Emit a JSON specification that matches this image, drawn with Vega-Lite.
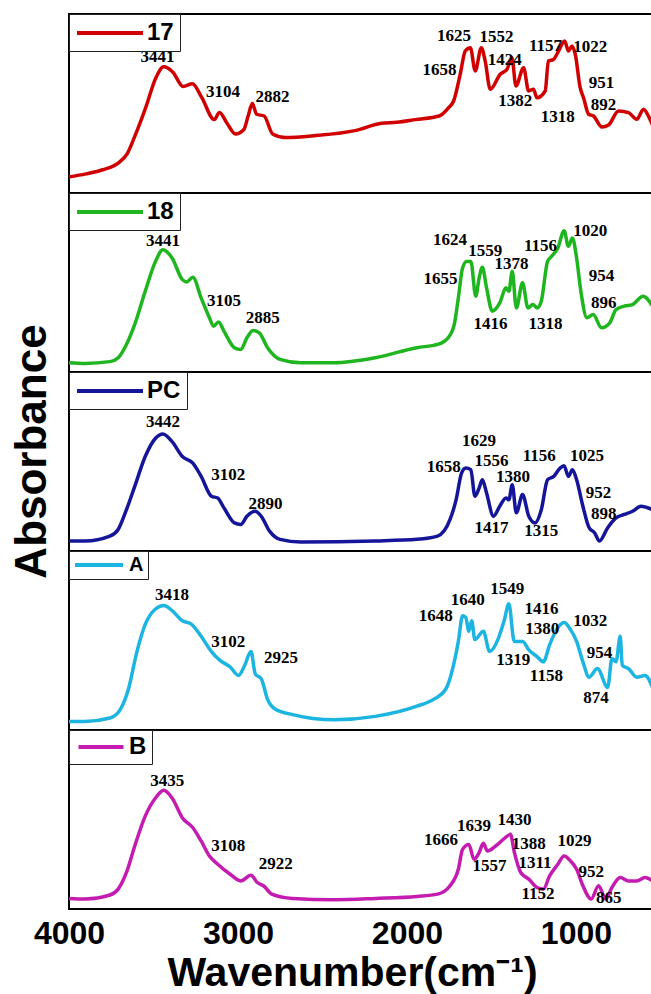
{
"$schema": "https://vega.github.io/schema/vega-lite/v6.json",
"background": "white",
"padding": {"left": 8, "top": 12, "right": 0, "bottom": 0},
"bounds": "flush",
"spacing": 0,
"config": {"view": {"stroke": "black", "strokeWidth": 2}},
"resolve": {"scale": {"color": "independent"}, "legend": {"color": "independent"}},
"datasets": {
"s17": [{"wn":4000,"abs":0.09},{"wn":3900,"abs":0.107},{"wn":3800,"abs":0.13},{"wn":3705,"abs":0.17},{"wn":3655,"abs":0.22},{"wn":3605,"abs":0.33},{"wn":3545,"abs":0.48},{"wn":3485,"abs":0.645},{"wn":3440,"abs":0.705},{"wn":3385,"abs":0.675},{"wn":3325,"abs":0.595},{"wn":3270,"abs":0.61},{"wn":3215,"abs":0.535},{"wn":3140,"abs":0.41},{"wn":3110,"abs":0.45},{"wn":3065,"abs":0.39},{"wn":3015,"abs":0.33},{"wn":2965,"abs":0.355},{"wn":2940,"abs":0.43},{"wn":2915,"abs":0.5},{"wn":2890,"abs":0.44},{"wn":2845,"abs":0.43},{"wn":2795,"abs":0.33},{"wn":2720,"abs":0.31},{"wn":2550,"abs":0.32},{"wn":2300,"abs":0.35},{"wn":2150,"abs":0.39},{"wn":2060,"abs":0.395},{"wn":1950,"abs":0.41},{"wn":1810,"abs":0.43},{"wn":1753,"abs":0.477},{"wn":1724,"abs":0.514},{"wn":1685,"abs":0.663},{"wn":1655,"abs":0.793},{"wn":1625,"abs":0.812},{"wn":1596,"abs":0.682},{"wn":1560,"abs":0.812},{"wn":1537,"abs":0.737},{"wn":1507,"abs":0.579},{"wn":1448,"abs":0.663},{"wn":1408,"abs":0.691},{"wn":1379,"abs":0.756},{"wn":1355,"abs":0.598},{"wn":1310,"abs":0.7},{"wn":1280,"abs":0.57},{"wn":1251,"abs":0.58},{"wn":1231,"abs":0.532},{"wn":1182,"abs":0.57},{"wn":1163,"abs":0.737},{"wn":1133,"abs":0.746},{"wn":1103,"abs":0.793},{"wn":1067,"abs":0.849},{"wn":1044,"abs":0.793},{"wn":1024,"abs":0.821},{"wn":1004,"abs":0.775},{"wn":975,"abs":0.588},{"wn":955,"abs":0.532},{"wn":925,"abs":0.44},{"wn":896,"abs":0.43},{"wn":846,"abs":0.369},{"wn":807,"abs":0.38},{"wn":748,"abs":0.458},{"wn":689,"abs":0.449},{"wn":640,"abs":0.412},{"wn":600,"abs":0.468},{"wn":571,"abs":0.43},{"wn":544,"abs":0.374}],
"l17": [{"wn":3476,"abs":0.757,"label":"3441"},{"wn":3088,"abs":0.566,"label":"3104"},{"wn":2796,"abs":0.536,"label":"2882"},{"wn":1807,"abs":0.686,"label":"1658"},{"wn":1721,"abs":0.879,"label":"1625"},{"wn":1470,"abs":0.869,"label":"1552"},{"wn":1421,"abs":0.742,"label":"1424"},{"wn":1359,"abs":0.514,"label":"1382"},{"wn":1180,"abs":0.822,"label":"1157"},{"wn":915,"abs":0.813,"label":"1022"},{"wn":1107,"abs":0.424,"label":"1318"},{"wn":849,"abs":0.617,"label":"951"},{"wn":837,"abs":0.492,"label":"892"}],
"s18": [{"wn":4000,"abs":0.052},{"wn":3905,"abs":0.048},{"wn":3758,"abs":0.058},{"wn":3709,"abs":0.08},{"wn":3660,"abs":0.154},{"wn":3611,"abs":0.266},{"wn":3549,"abs":0.451},{"wn":3488,"abs":0.618},{"wn":3444,"abs":0.683},{"wn":3390,"abs":0.637},{"wn":3329,"abs":0.516},{"wn":3304,"abs":0.503},{"wn":3267,"abs":0.529},{"wn":3218,"abs":0.414},{"wn":3169,"abs":0.303},{"wn":3144,"abs":0.256},{"wn":3115,"abs":0.28},{"wn":3083,"abs":0.228},{"wn":3021,"abs":0.136},{"wn":2984,"abs":0.126},{"wn":2947,"abs":0.191},{"wn":2911,"abs":0.232},{"wn":2874,"abs":0.219},{"wn":2825,"abs":0.136},{"wn":2751,"abs":0.071},{"wn":2628,"abs":0.052},{"wn":2432,"abs":0.052},{"wn":2187,"abs":0.08},{"wn":1941,"abs":0.136},{"wn":1819,"abs":0.154},{"wn":1757,"abs":0.191},{"wn":1720,"abs":0.266},{"wn":1696,"abs":0.414},{"wn":1671,"abs":0.581},{"wn":1647,"abs":0.618},{"wn":1622,"abs":0.618},{"wn":1593,"abs":0.423},{"wn":1573,"abs":0.525},{"wn":1554,"abs":0.585},{"wn":1529,"abs":0.47},{"wn":1495,"abs":0.34},{"wn":1451,"abs":0.386},{"wn":1414,"abs":0.47},{"wn":1397,"abs":0.451},{"wn":1377,"abs":0.563},{"wn":1353,"abs":0.358},{"wn":1316,"abs":0.498},{"wn":1284,"abs":0.358},{"wn":1255,"abs":0.377},{"wn":1230,"abs":0.358},{"wn":1205,"abs":0.396},{"wn":1168,"abs":0.618},{"wn":1144,"abs":0.646},{"wn":1107,"abs":0.693},{"wn":1070,"abs":0.789},{"wn":1045,"abs":0.702},{"wn":1021,"abs":0.748},{"wn":996,"abs":0.637},{"wn":971,"abs":0.451},{"wn":935,"abs":0.303},{"wn":898,"abs":0.321},{"wn":849,"abs":0.247},{"wn":800,"abs":0.275},{"wn":763,"abs":0.349},{"wn":714,"abs":0.368},{"wn":665,"abs":0.377},{"wn":603,"abs":0.423},{"wn":547,"abs":0.368}],
"l18": [{"wn":3444,"abs":0.73,"label":"3441"},{"wn":3083,"abs":0.396,"label":"3105"},{"wn":2854,"abs":0.303,"label":"2885"},{"wn":1802,"abs":0.522,"label":"1655"},{"wn":1745,"abs":0.739,"label":"1624"},{"wn":1536,"abs":0.678,"label":"1559"},{"wn":1382,"abs":0.604,"label":"1378"},{"wn":1210,"abs":0.702,"label":"1156"},{"wn":915,"abs":0.789,"label":"1020"},{"wn":849,"abs":0.535,"label":"954"},{"wn":836,"abs":0.386,"label":"896"},{"wn":1505,"abs":0.266,"label":"1416"},{"wn":1180,"abs":0.266,"label":"1318"}],
"sPC": [{"wn":4000,"abs":0.056},{"wn":3905,"abs":0.056},{"wn":3758,"abs":0.083},{"wn":3709,"abs":0.12},{"wn":3660,"abs":0.231},{"wn":3611,"abs":0.361},{"wn":3549,"abs":0.528},{"wn":3488,"abs":0.63},{"wn":3444,"abs":0.654},{"wn":3390,"abs":0.611},{"wn":3329,"abs":0.528},{"wn":3267,"abs":0.491},{"wn":3218,"abs":0.417},{"wn":3157,"abs":0.306},{"wn":3120,"abs":0.296},{"wn":3083,"abs":0.241},{"wn":3021,"abs":0.157},{"wn":2984,"abs":0.148},{"wn":2947,"abs":0.194},{"wn":2898,"abs":0.222},{"wn":2862,"abs":0.194},{"wn":2813,"abs":0.111},{"wn":2751,"abs":0.065},{"wn":2628,"abs":0.05},{"wn":2187,"abs":0.056},{"wn":1941,"abs":0.065},{"wn":1819,"abs":0.083},{"wn":1745,"abs":0.176},{"wn":1709,"abs":0.287},{"wn":1677,"abs":0.435},{"wn":1652,"abs":0.463},{"wn":1622,"abs":0.454},{"wn":1598,"abs":0.306},{"wn":1573,"abs":0.352},{"wn":1554,"abs":0.398},{"wn":1529,"abs":0.324},{"wn":1488,"abs":0.194},{"wn":1451,"abs":0.25},{"wn":1414,"abs":0.296},{"wn":1397,"abs":0.287},{"wn":1377,"abs":0.37},{"wn":1353,"abs":0.213},{"wn":1316,"abs":0.315},{"wn":1279,"abs":0.194},{"wn":1242,"abs":0.157},{"wn":1205,"abs":0.231},{"wn":1168,"abs":0.398},{"wn":1131,"abs":0.417},{"wn":1094,"abs":0.463},{"wn":1070,"abs":0.476},{"wn":1045,"abs":0.417},{"wn":1021,"abs":0.454},{"wn":996,"abs":0.398},{"wn":959,"abs":0.25},{"wn":922,"abs":0.13},{"wn":890,"abs":0.102},{"wn":861,"abs":0.056},{"wn":812,"abs":0.13},{"wn":763,"abs":0.185},{"wn":714,"abs":0.204},{"wn":665,"abs":0.222},{"wn":615,"abs":0.25},{"wn":547,"abs":0.231}],
"lPC": [{"wn":3444,"abs":0.722,"label":"3442"},{"wn":3058,"abs":0.426,"label":"3102"},{"wn":2837,"abs":0.265,"label":"2890"},{"wn":1782,"abs":0.469,"label":"1658"},{"wn":1573,"abs":0.612,"label":"1629"},{"wn":1499,"abs":0.505,"label":"1556"},{"wn":1372,"abs":0.413,"label":"1380"},{"wn":1217,"abs":0.533,"label":"1156"},{"wn":935,"abs":0.533,"label":"1025"},{"wn":866,"abs":0.324,"label":"952"},{"wn":836,"abs":0.209,"label":"898"},{"wn":1499,"abs":0.13,"label":"1417"},{"wn":1205,"abs":0.11,"label":"1315"}],
"sA": [{"wn":4000,"abs":0.048},{"wn":3905,"abs":0.048},{"wn":3758,"abs":0.067},{"wn":3697,"abs":0.114},{"wn":3648,"abs":0.229},{"wn":3598,"abs":0.438},{"wn":3549,"abs":0.59},{"wn":3488,"abs":0.676},{"wn":3439,"abs":0.695},{"wn":3390,"abs":0.667},{"wn":3329,"abs":0.61},{"wn":3280,"abs":0.594},{"wn":3218,"abs":0.524},{"wn":3157,"abs":0.438},{"wn":3108,"abs":0.39},{"wn":3046,"abs":0.352},{"wn":2997,"abs":0.305},{"wn":2960,"abs":0.362},{"wn":2923,"abs":0.438},{"wn":2898,"abs":0.314},{"wn":2862,"abs":0.286},{"wn":2825,"abs":0.171},{"wn":2776,"abs":0.114},{"wn":2677,"abs":0.086},{"wn":2432,"abs":0.057},{"wn":2187,"abs":0.076},{"wn":1941,"abs":0.133},{"wn":1843,"abs":0.171},{"wn":1770,"abs":0.229},{"wn":1720,"abs":0.381},{"wn":1696,"abs":0.495},{"wn":1671,"abs":0.638},{"wn":1652,"abs":0.629},{"wn":1634,"abs":0.552},{"wn":1617,"abs":0.61},{"wn":1598,"abs":0.505},{"wn":1548,"abs":0.552},{"wn":1511,"abs":0.438},{"wn":1462,"abs":0.505},{"wn":1425,"abs":0.61},{"wn":1397,"abs":0.705},{"wn":1365,"abs":0.495},{"wn":1316,"abs":0.495},{"wn":1279,"abs":0.448},{"wn":1230,"abs":0.41},{"wn":1193,"abs":0.381},{"wn":1156,"abs":0.476},{"wn":1107,"abs":0.571},{"wn":1070,"abs":0.6},{"wn":1033,"abs":0.562},{"wn":996,"abs":0.495},{"wn":959,"abs":0.381},{"wn":922,"abs":0.295},{"wn":873,"abs":0.343},{"wn":812,"abs":0.238},{"wn":787,"abs":0.4},{"wn":763,"abs":0.381},{"wn":738,"abs":0.524},{"wn":726,"abs":0.362},{"wn":689,"abs":0.343},{"wn":640,"abs":0.295},{"wn":591,"abs":0.305},{"wn":547,"abs":0.238}],
"lA": [{"wn":3390,"abs":0.752,"label":"3418"},{"wn":3058,"abs":0.491,"label":"3102"},{"wn":2746,"abs":0.4,"label":"2925"},{"wn":1830,"abs":0.638,"label":"1648"},{"wn":1641,"abs":0.724,"label":"1640"},{"wn":1406,"abs":0.785,"label":"1549"},{"wn":1204,"abs":0.676,"label":"1416"},{"wn":1199,"abs":0.562,"label":"1380"},{"wn":915,"abs":0.61,"label":"1032"},{"wn":861,"abs":0.429,"label":"954"},{"wn":1371,"abs":0.39,"label":"1319"},{"wn":1175,"abs":0.301,"label":"1158"},{"wn":881,"abs":0.181,"label":"874"}],
"sB": [{"wn":4000,"abs":0.059},{"wn":3905,"abs":0.056},{"wn":3758,"abs":0.078},{"wn":3709,"abs":0.111},{"wn":3660,"abs":0.204},{"wn":3611,"abs":0.352},{"wn":3549,"abs":0.519},{"wn":3488,"abs":0.62},{"wn":3439,"abs":0.663},{"wn":3390,"abs":0.62},{"wn":3329,"abs":0.509},{"wn":3267,"abs":0.454},{"wn":3218,"abs":0.38},{"wn":3169,"abs":0.296},{"wn":3120,"abs":0.25},{"wn":3046,"abs":0.194},{"wn":2984,"abs":0.157},{"wn":2923,"abs":0.189},{"wn":2886,"abs":0.148},{"wn":2849,"abs":0.13},{"wn":2800,"abs":0.083},{"wn":2677,"abs":0.059},{"wn":2432,"abs":0.052},{"wn":2187,"abs":0.059},{"wn":1941,"abs":0.07},{"wn":1819,"abs":0.083},{"wn":1745,"abs":0.13},{"wn":1696,"abs":0.222},{"wn":1671,"abs":0.333},{"wn":1634,"abs":0.361},{"wn":1603,"abs":0.278},{"wn":1573,"abs":0.315},{"wn":1548,"abs":0.367},{"wn":1524,"abs":0.324},{"wn":1475,"abs":0.352},{"wn":1425,"abs":0.393},{"wn":1388,"abs":0.417},{"wn":1364,"abs":0.315},{"wn":1327,"abs":0.204},{"wn":1279,"abs":0.167},{"wn":1230,"abs":0.12},{"wn":1193,"abs":0.111},{"wn":1156,"abs":0.185},{"wn":1107,"abs":0.25},{"wn":1070,"abs":0.296},{"wn":1033,"abs":0.269},{"wn":996,"abs":0.222},{"wn":959,"abs":0.13},{"wn":910,"abs":0.056},{"wn":866,"abs":0.13},{"wn":824,"abs":0.056},{"wn":787,"abs":0.12},{"wn":738,"abs":0.176},{"wn":689,"abs":0.157},{"wn":640,"abs":0.157},{"wn":591,"abs":0.176},{"wn":547,"abs":0.157}],
"lB": [{"wn":3419,"abs":0.713,"label":"3435"},{"wn":3058,"abs":0.352,"label":"3108"},{"wn":2776,"abs":0.25,"label":"2922"},{"wn":1799,"abs":0.385,"label":"1666"},{"wn":1603,"abs":0.463,"label":"1639"},{"wn":1364,"abs":0.496,"label":"1430"},{"wn":1279,"abs":0.361,"label":"1388"},{"wn":1242,"abs":0.259,"label":"1311"},{"wn":1008,"abs":0.38,"label":"1029"},{"wn":910,"abs":0.204,"label":"952"},{"wn":1511,"abs":0.241,"label":"1557"},{"wn":1224,"abs":0.083,"label":"1152"},{"wn":806,"abs":0.059,"label":"865"}]
},
"vconcat": [
{"width": 584, "height": 179,
 "encoding": {"x": {"field": "wn", "type": "quantitative", "scale": {"domain": [4000, 544], "nice": false, "zero": false}, "axis": null},
              "y": {"field": "abs", "type": "quantitative", "scale": {"domain": [0, 1], "nice": false, "zero": false}, "axis": null}},
 "layer": [
  {"data": {"name": "s17"}, "mark": {"type": "line", "strokeWidth": 3.5, "interpolate": "monotone"},
   "encoding": {"color": {"datum": "17", "type": "nominal", "scale": {"domain": ["17"], "range": ["#d00000"]},
     "legend": {"title": null, "orient": "top-left", "offset": 0, "padding": 6, "strokeColor": "#222", "fillColor": "white", "symbolType": "M-1,0H5", "symbolStrokeWidth": 4, "symbolSize": 484, "labelFont": "Liberation Sans", "labelFontWeight": "bold", "labelFontSize": 24, "labelColor": "black", "labelOffset": 46}}}},
  {"data": {"name": "l17"}, "mark": {"type": "text", "font": "Liberation Serif", "fontWeight": "bold", "fontSize": 17, "color": "black"},
   "encoding": {"text": {"field": "label"}}}
 ]},
{"width": 584, "height": 179,
 "encoding": {"x": {"field": "wn", "type": "quantitative", "scale": {"domain": [4000, 544], "nice": false, "zero": false}, "axis": null},
              "y": {"field": "abs", "type": "quantitative", "scale": {"domain": [0, 1], "nice": false, "zero": false}, "axis": null}},
 "layer": [
  {"data": {"name": "s18"}, "mark": {"type": "line", "strokeWidth": 3.5, "interpolate": "monotone"},
   "encoding": {"color": {"datum": "18", "type": "nominal", "scale": {"domain": ["18"], "range": ["#1fb51f"]},
     "legend": {"title": null, "orient": "top-left", "offset": 0, "padding": 6, "strokeColor": "#222", "fillColor": "white", "symbolType": "M-1,0H5", "symbolStrokeWidth": 4, "symbolSize": 484, "labelFont": "Liberation Sans", "labelFontWeight": "bold", "labelFontSize": 24, "labelColor": "black", "labelOffset": 46}}}},
  {"data": {"name": "l18"}, "mark": {"type": "text", "font": "Liberation Serif", "fontWeight": "bold", "fontSize": 17, "color": "black"},
   "encoding": {"text": {"field": "label"}}}
 ]},
{"width": 584, "height": 179,
 "encoding": {"x": {"field": "wn", "type": "quantitative", "scale": {"domain": [4000, 544], "nice": false, "zero": false}, "axis": null},
              "y": {"field": "abs", "type": "quantitative", "scale": {"domain": [0, 1], "nice": false, "zero": false},
                    "axis": {"title": "Absorbance", "titleFont": "Liberation Sans", "titleFontSize": 44, "titleFontWeight": "bold", "titleColor": "black", "titlePadding": 15, "titleY": 79, "labels": false, "ticks": false, "domain": false, "grid": false}}},
 "layer": [
  {"data": {"name": "sPC"}, "mark": {"type": "line", "strokeWidth": 3.5, "interpolate": "monotone"},
   "encoding": {"color": {"datum": "PC", "type": "nominal", "scale": {"domain": ["PC"], "range": ["#15159a"]},
     "legend": {"title": null, "orient": "top-left", "offset": 0, "padding": 6, "strokeColor": "#222", "fillColor": "white", "symbolType": "M-1,0H5", "symbolStrokeWidth": 4, "symbolSize": 484, "labelFont": "Liberation Sans", "labelFontWeight": "bold", "labelFontSize": 24, "labelColor": "black", "labelOffset": 46}}}},
  {"data": {"name": "lPC"}, "mark": {"type": "text", "font": "Liberation Serif", "fontWeight": "bold", "fontSize": 17, "color": "black"},
   "encoding": {"text": {"field": "label"}}}
 ]},
{"width": 584, "height": 179,
 "encoding": {"x": {"field": "wn", "type": "quantitative", "scale": {"domain": [4000, 544], "nice": false, "zero": false}, "axis": null},
              "y": {"field": "abs", "type": "quantitative", "scale": {"domain": [0, 1], "nice": false, "zero": false}, "axis": null}},
 "layer": [
  {"data": {"name": "sA"}, "mark": {"type": "line", "strokeWidth": 3.5, "interpolate": "monotone"},
   "encoding": {"color": {"datum": "A", "type": "nominal", "scale": {"domain": ["A"], "range": ["#1cb4e0"]},
     "legend": {"title": null, "orient": "top-left", "offset": 0, "padding": 4, "strokeColor": "#222", "fillColor": "white", "symbolType": "M-1,0H5", "symbolStrokeWidth": 4, "symbolSize": 256, "labelFont": "Liberation Sans", "labelFontWeight": "bold", "labelFontSize": 20, "labelColor": "black", "labelOffset": 36}}}},
  {"data": {"name": "lA"}, "mark": {"type": "text", "font": "Liberation Serif", "fontWeight": "bold", "fontSize": 17, "color": "black"},
   "encoding": {"text": {"field": "label"}}}
 ]},
{"width": 584, "height": 179,
 "encoding": {"x": {"field": "wn", "type": "quantitative", "scale": {"domain": [4000, 544], "nice": false, "zero": false},
                    "axis": {"values": [4000, 3000, 2000, 1000], "format": "d", "title": "Wavenumber(cm⁻¹)", "labelFont": "Liberation Sans", "labelFontSize": 32, "labelFontWeight": "bold", "labelColor": "black", "labelFlush": false, "labelPadding": 9, "ticks": false, "domain": false, "grid": false, "titleFont": "Liberation Sans", "titleFontSize": 41, "titleFontWeight": "bold", "titleColor": "black", "titlePadding": 4, "titleX": 283}},
              "y": {"field": "abs", "type": "quantitative", "scale": {"domain": [0, 1], "nice": false, "zero": false}, "axis": null}},
 "layer": [
  {"data": {"name": "sB"}, "mark": {"type": "line", "strokeWidth": 3.5, "interpolate": "monotone"},
   "encoding": {"color": {"datum": "B", "type": "nominal", "scale": {"domain": ["B"], "range": ["#c41cb0"]},
     "legend": {"title": null, "orient": "top-left", "offset": 0, "padding": 5, "strokeColor": "#222", "fillColor": "white", "symbolType": "M-1,0H5", "symbolStrokeWidth": 4, "symbolSize": 225, "labelFont": "Liberation Sans", "labelFontWeight": "bold", "labelFontSize": 24, "labelColor": "black", "labelOffset": 31}}}},
  {"data": {"name": "lB"}, "mark": {"type": "text", "font": "Liberation Serif", "fontWeight": "bold", "fontSize": 17, "color": "black"},
   "encoding": {"text": {"field": "label"}}}
 ]}
]
}
